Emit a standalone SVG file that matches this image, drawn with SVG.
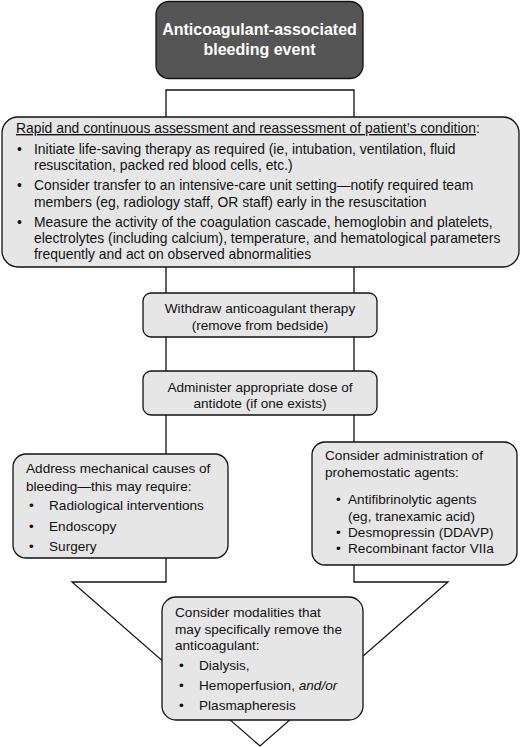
<svg xmlns="http://www.w3.org/2000/svg" width="520" height="747" viewBox="0 0 520 747">
<style>
  text { font-family: "Liberation Sans", Arial, sans-serif; font-size: 13.6px; fill: #111; }
  .big { font-size: 13.9px; }
  .box { fill: #e6e6e6; stroke: #111; stroke-width: 1.3; }
  .title { fill: #555555; stroke: #111; stroke-width: 1.3; }
  .tt { font-size: 16px; font-weight: bold; fill: #fff; text-anchor: middle; }
  .c { text-anchor: middle; }
  .arrow { fill: #fff; stroke: #111; stroke-width: 1.3; stroke-linejoin: miter; }
</style>
<rect width="520" height="747" fill="#fff"/>
<g id="connectors">
  <polygon class="arrow" points="166,90 354,90 354,582 448,582 260,746 72,582 166,582"/>
</g>
<g id="node-event">
  <rect class="title" x="156" y="1.5" width="207" height="77" rx="13"/>
  <text class="tt" x="259.5" y="35">Anticoagulant-associated</text>
  <text class="tt" x="259.5" y="55">bleeding event</text>
</g>
<g id="node-assessment">
  <rect class="box" x="2" y="117" width="517" height="150" rx="16"/>
  <text class="big" x="16" y="133"><tspan text-decoration="underline">Rapid and continuous assessment and reassessment of patient’s condition</tspan>:</text>
  <text class="big" x="17" y="154">•</text>
  <text class="big" x="34" y="154">Initiate life-saving therapy as required (ie, intubation, ventilation, fluid</text>
  <text class="big" x="34" y="170">resuscitation, packed red blood cells, etc.)</text>
  <text class="big" x="17" y="190">•</text>
  <text class="big" x="34" y="190">Consider transfer to an intensive-care unit setting—notify required team</text>
  <text class="big" x="34" y="207">members (eg, radiology staff, OR staff) early in the resuscitation</text>
  <text class="big" x="17" y="227">•</text>
  <text class="big" x="34" y="227">Measure the activity of the coagulation cascade, hemoglobin and platelets,</text>
  <text class="big" x="34" y="243">electrolytes (including calcium), temperature, and hematological parameters</text>
  <text class="big" x="34" y="259">frequently and act on observed abnormalities</text>
</g>
<g id="node-withdraw">
  <rect class="box" x="143" y="293" width="234" height="44" rx="8"/>
  <text class="c" x="260" y="313">Withdraw anticoagulant therapy</text>
  <text class="c" x="260" y="330">(remove from bedside)</text>
</g>
<g id="node-antidote">
  <rect class="box" x="143" y="371" width="234" height="44" rx="8"/>
  <text class="c" x="260" y="392">Administer appropriate dose of</text>
  <text class="c" x="260" y="408">antidote (if one exists)</text>
</g>
<g id="node-mechanical">
  <rect class="box" x="13" y="454" width="215" height="104" rx="13"/>
  <text x="26" y="473">Address mechanical causes of</text>
  <text x="26" y="491">bleeding—this may require:</text>
  <text x="29" y="510">•</text>
  <text x="49" y="510">Radiological interventions</text>
  <text x="29" y="531">•</text>
  <text x="49" y="531">Endoscopy</text>
  <text x="29" y="551">•</text>
  <text x="49" y="551">Surgery</text>
</g>
<g id="node-prohemostatic">
  <rect class="box" x="312" y="442" width="205" height="123" rx="13"/>
  <text x="325" y="460">Consider administration of</text>
  <text x="325" y="477">prohemostatic agents:</text>
  <text x="336" y="504">•</text>
  <text x="348" y="504">Antifibrinolytic agents</text>
  <text x="348" y="521">(eg, tranexamic acid)</text>
  <text x="336" y="537">•</text>
  <text x="348" y="537">Desmopressin (DDAVP)</text>
  <text x="336" y="553">•</text>
  <text x="348" y="553">Recombinant factor VIIa</text>
</g>
<g id="node-removal">
  <rect class="box" x="162" y="597" width="201" height="123" rx="14"/>
  <text x="175" y="617">Consider modalities that</text>
  <text x="175" y="634">may specifically remove the</text>
  <text x="175" y="650">anticoagulant:</text>
  <text x="179" y="670">•</text>
  <text x="199" y="670">Dialysis,</text>
  <text x="179" y="690">•</text>
  <text x="199" y="690">Hemoperfusion, <tspan font-style="italic">and/or</tspan></text>
  <text x="179" y="710">•</text>
  <text x="199" y="710">Plasmapheresis</text>
</g>
</svg>
